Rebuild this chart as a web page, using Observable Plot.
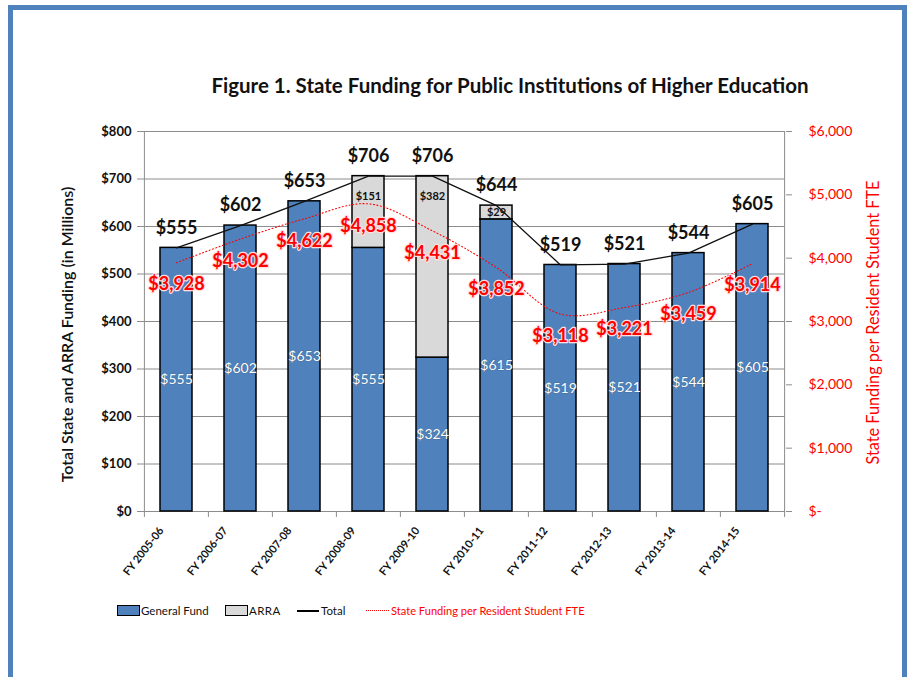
<!DOCTYPE html>
<html>
<head>
<meta charset="utf-8">
<script src="https://cdn.jsdelivr.net/npm/d3@7"></script>
<script src="https://cdn.jsdelivr.net/npm/@observablehq/plot@0.6"></script>
<style>
  html, body { margin: 0; padding: 0; background: #fff; overflow: hidden; width: 909px; height: 677px; }
  body { position: relative; font-family: Lato, "Liberation Sans", sans-serif; }
  #frame { position: absolute; left: 8px; top: 5px; width: 889px; height: 700px; border: 5px solid #4F81BD; z-index: 2; pointer-events: none; }
  #title { position: absolute; left: 0; width: 1020px; top: 73px; text-align: center; font-weight: bold; font-size: 20.5px; color: #111; z-index: 3; }
  #chart { position: absolute; left: 0; top: 0; }
  #legend { position: absolute; left: 0; top: 604px; width: 909px; height: 20px; font-size: 11.5px; color: #111; z-index: 3; }
  .sw { display: inline-block; width: 21px; height: 9px; border: 1px solid #000; margin-right: 1px; }
  .ln { display: inline-block; width: 22px; height: 0; margin-right: 2px; }
  .item { position: absolute; top: 0; display: flex; align-items: center; white-space: nowrap; }
</style>
</head>
<body>
<div id="frame"></div>
<div id="title">Figure 1. State Funding for Public Institutions of Higher Education</div>
<div id="chart"></div>
<div id="legend">
  <div class="item" style="left:117px"><span class="sw" style="background:#4F81BD"></span>General Fund</div>
  <div class="item" style="left:225px;letter-spacing:0.4px"><span class="sw" style="background:#D9D9D9"></span>ARRA</div>
  <div class="item" style="left:297px"><span class="ln" style="border-top:2px solid #000"></span>Total</div>
  <div class="item" style="left:366px;color:#FF0000;font-size:11.1px"><span class="ln" style="border-top:1.5px dotted #FF0000;width:23px"></span>State Funding per Resident Student FTE</div>
</div>
<script>
const years = ["FY 2005-06","FY 2006-07","FY 2007-08","FY 2008-09","FY 2009-10","FY 2010-11","FY 2011-12","FY 2012-13","FY 2013-14","FY 2014-15"];
const generalFund = [555, 602, 653, 555, 324, 615, 519, 521, 544, 605];
const arra = [0, 0, 0, 151, 382, 29, 0, 0, 0, 0];
const total = [555, 602, 653, 706, 706, 644, 519, 521, 544, 605];
const perFTE = [3928, 4302, 4622, 4858, 4431, 3852, 3118, 3221, 3459, 3914];
const leftTicks = [0, 100, 200, 300, 400, 500, 600, 700, 800];
const rightTicks = [0, 1000, 2000, 3000, 4000, 5000, 6000];
const leftLabel = "Total State and ARRA Funding (in Millions)";
const rightLabel = "State Funding per Resident Student FTE";

const K = 800 / 6000; // right axis units -> left axis units
const rows = years.map((y, i) => ({year: y, gf: generalFund[i], arra: arra[i], total: total[i], fte: perFTE[i]}));
const arraRows = rows.filter(d => d.arra > 0);
const fmt = d3.format(",");
const H = 600;
const FONT = "Lato, 'Liberation Sans', sans-serif";

const chart = Plot.plot({
  width: 909,
  height: H,
  marginLeft: 143,
  marginRight: 124,
  marginTop: 131,
  marginBottom: H - 511,
  style: {background: "transparent", fontFamily: FONT, color: "#111"},
  x: {domain: years, paddingInner: 0.5, paddingOuter: 0.25, axis: null},
  y: {domain: [0, 800], axis: null},
  marks: [
    Plot.gridY(leftTicks, {stroke: "#8c8c8c", strokeOpacity: 1, strokeWidth: 1}),
    Plot.axisY({ticks: leftTicks, tickFormat: d => "$" + d, tickSize: 6, tickPadding: 6, fontSize: 13, fontWeight: "bold", stroke: "#8c8c8c", fill: "#111", label: null}),
    Plot.ruleX([0], {x: () => years[0], y1: 0, y2: 800, dx: -32.1, stroke: "#8c8c8c"}),
    Plot.ruleX([0], {x: () => years[years.length - 1], y1: 0, y2: 800, dx: 32.1, stroke: "#8c8c8c"}),
    Plot.axisY({anchor: "right", ticks: rightTicks.map(v => v * K), tickFormat: v => { const r = Math.round(v / K); return r === 0 ? "$-" : "$" + fmt(r); }, tickSize: 6, tickPadding: 17, fontSize: 14, fill: "#FF0000", stroke: "#8c8c8c", label: null}),
    Plot.ruleY([0], {stroke: "#8c8c8c"}),
    Plot.ruleX(years, {x: d => d, y1: 0, y2: -12.6, dx: -32.1, stroke: "#8c8c8c"}),
    Plot.ruleX([years[years.length - 1]], {x: d => d, y1: 0, y2: -12.6, dx: 32.1, stroke: "#8c8c8c"}),
    Plot.axisX({tickSize: 0, tickRotate: -52, tickPadding: 17, dx: -15, fontSize: 11, fontWeight: "bold", fill: "#111", label: null}),
    Plot.barY(rows, {x: "year", y1: 0, y2: "gf", fill: "#4F81BD", stroke: "#000", strokeWidth: 1.5}),
    Plot.barY(arraRows, {x: "year", y1: "gf", y2: "total", fill: "#D9D9D9", stroke: "#000", strokeWidth: 1.5}),
    Plot.lineY(rows, {x: "year", y: "total", stroke: "#111", strokeWidth: 1.3}),
    Plot.lineY(rows, {x: "year", y: d => d.fte * K, stroke: "#FF0000", strokeWidth: 1.1, strokeDasharray: "1,2.5", curve: "catmull-rom"}),
    Plot.text(rows, {x: "year", y: "total", text: d => "$" + d.total, dy: -20, fontSize: 18, fontWeight: "bold", fill: "#111"}),
    Plot.text(rows, {x: "year", y: d => d.gf / 2, text: d => "$" + d.gf, fontSize: 14, fill: "#fff", stroke: "#3a5a80", strokeWidth: 0.6}),
    Plot.text(arraRows, {x: "year", y: d => Math.max((d.gf + d.total) / 2, d.total - 42), text: d => "$" + d.arra, fontSize: 11, fontWeight: "bold", fill: "#111"}),
    Plot.text(rows, {x: "year", y: d => d.fte * K, text: d => "$" + fmt(d.fte), dy: 22, fontSize: 18, fontWeight: "bold", fill: "#FF0000", stroke: "#ffdede", strokeWidth: 2.5}),
    Plot.text([leftLabel], {frameAnchor: "left", textAnchor: "middle", text: d => d, rotate: -90, dx: -76, dy: 13, fontSize: 16, fontWeight: "600", fill: "#111"}),
    Plot.text([rightLabel], {frameAnchor: "right", textAnchor: "middle", text: d => d, rotate: -90, dx: 88, dy: 1, fontSize: 16.3, fill: "#FF0000"})
  ]
});
document.getElementById("chart").appendChild(chart);
</script>
</body>
</html>
